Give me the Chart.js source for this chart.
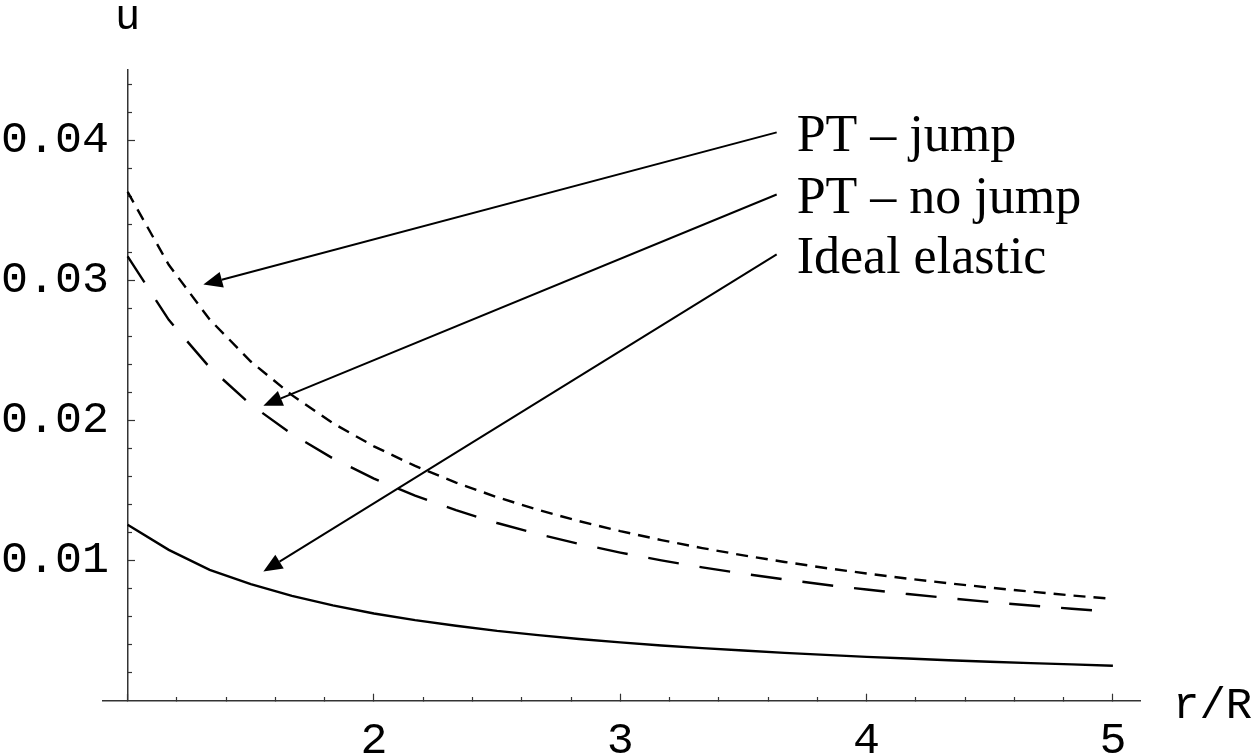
<!DOCTYPE html>
<html>
<head>
<meta charset="utf-8">
<title>u vs r/R</title>
<script src="https://cdn.jsdelivr.net/npm/chart.js@4/dist/chart.umd.min.js"></script>
<style>
  html, body { margin: 0; padding: 0; background: #ffffff; }
  #wrap { width: 1251px; height: 753px; position: relative; }
</style>
</head>
<body>
<div id="wrap"><canvas id="uChart"></canvas></div>
<script>
// sample positions r/R
const xs = [1, 1.167, 1.333, 1.5, 1.667, 1.833, 2, 2.167, 2.333, 2.5, 2.667, 2.833,
  3, 3.167, 3.333, 3.5, 3.667, 3.833, 4, 4.167, 4.333, 4.5, 4.667, 4.833, 5];

// PT - jump (short dashes)
const ptJump = [0.0363, 0.0311, 0.0272, 0.0242, 0.0218, 0.0198, 0.01815, 0.01675,
  0.01556, 0.01452, 0.01361, 0.01281, 0.0121, 0.01146, 0.01089, 0.01037, 0.0099,
  0.00947, 0.00908, 0.00871, 0.00838, 0.00807, 0.00778, 0.00751, 0.00726];

// PT - no jump (long dashes)
const ptNoJump = [0.0317, 0.02717, 0.02378, 0.02113, 0.01902, 0.01729, 0.01585,
  0.01463, 0.01359, 0.01268, 0.01189, 0.01119, 0.01057, 0.01001, 0.00951, 0.00906,
  0.00865, 0.00827, 0.00793, 0.00761, 0.00732, 0.00704, 0.00679, 0.00656, 0.00634];

// Ideal elastic (solid)
const idealElastic = [0.01255, 0.01076, 0.00934, 0.00832, 0.00748, 0.0068, 0.00622,
  0.00575, 0.00535, 0.00498, 0.00468, 0.0044, 0.00416, 0.00394, 0.00375, 0.00358,
  0.00341, 0.00327, 0.00313, 0.00301, 0.00289, 0.00278, 0.00268, 0.00259, 0.00249];

const xTickLabels = [2, 3, 4, 5];
const yTickLabels = [0.01, 0.02, 0.03, 0.04];

// annotation labels and arrows (data units: tail -> head)
const labelTexts = ["PT \u2013 jump", "PT \u2013 no jump", "Ideal elastic"];
const arrowTails = [[3.635, 0.04055], [3.635, 0.03612], [3.635, 0.03184]];
const arrowHeads = [[1.3075, 0.02969], [1.551, 0.02105], [1.551, 0.00921]];

const AXIS_COLOR = "#333333";
const HIDDEN = "rgba(0,0,0,0)";
const MONO = "'Liberation Mono', 'DejaVu Sans Mono', monospace";
const SERIF = "'Liberation Serif', 'DejaVu Serif', serif";

function toPoints(values) {
  return values.map(function (v, i) { return { x: xs[i], y: v }; });
}

function near(v, list, eps) {
  return list.some(function (t) { return Math.abs(v - t) < eps; });
}

function onStep(v, step) {
  const k = v / step;
  return Math.abs(k - Math.round(k)) < 1e-6;
}

document.addEventListener("DOMContentLoaded", function () {
  // arrows, annotation text and axis titles
  const annotations = {
    id: "annotations",
    afterDatasetsDraw: function (chart) {
      const ctx = chart.ctx;
      const sx = chart.scales.x;
      const sy = chart.scales.y;
      const area = chart.chartArea;
      ctx.save();
      ctx.strokeStyle = "#000";
      ctx.fillStyle = "#000";
      ctx.lineWidth = 2;
      arrowTails.forEach(function (tail, i) {
        const x1 = sx.getPixelForValue(tail[0]);
        const y1 = sy.getPixelForValue(tail[1]);
        const x2 = sx.getPixelForValue(arrowHeads[i][0]);
        const y2 = sy.getPixelForValue(arrowHeads[i][1]);
        const ang = Math.atan2(y2 - y1, x2 - x1);
        const len = 19, half = 8;
        const bx = x2 - len * Math.cos(ang);
        const by = y2 - len * Math.sin(ang);
        ctx.beginPath();
        ctx.moveTo(x1, y1);
        ctx.lineTo(bx, by);
        ctx.stroke();
        ctx.beginPath();
        ctx.moveTo(x2, y2);
        ctx.lineTo(bx + half * Math.sin(ang), by - half * Math.cos(ang));
        ctx.lineTo(bx - half * Math.sin(ang), by + half * Math.cos(ang));
        ctx.closePath();
        ctx.fill();
        // label text
        ctx.font = "52px " + SERIF;
        ctx.textAlign = "left";
        ctx.textBaseline = "alphabetic";
        ctx.fillText(labelTexts[i], x1 + 20, y1 + 19);
      });
      // axis titles
      ctx.font = "42px " + MONO;
      ctx.textAlign = "center";
      ctx.fillText("u", sx.getPixelForValue(1), area.top - 41);
      ctx.font = "44px " + MONO;
      ctx.textAlign = "left";
      ctx.fillText("r/R", area.right + 33, area.bottom + 17);
      ctx.restore();
    },
  };

  const ctx = document.getElementById("uChart").getContext("2d");
  const uChart = new Chart(ctx, {
    type: "line",
    data: {
      datasets: [
        {
          label: "PT - jump",
          data: toPoints(ptJump),
          borderColor: "#000",
          borderWidth: 2.4,
          borderDash: [12, 8],
          pointRadius: 0,
          tension: 0,
        },
        {
          label: "PT - no jump",
          data: toPoints(ptNoJump),
          borderColor: "#000",
          borderWidth: 2.4,
          borderDash: [31, 21],
          pointRadius: 0,
          tension: 0,
        },
        {
          label: "Ideal elastic",
          data: toPoints(idealElastic),
          borderColor: "#000",
          borderWidth: 2.4,
          pointRadius: 0,
          tension: 0,
        },
      ],
    },
    options: {
      responsive: true,
      maintainAspectRatio: false,
      animation: false,
      events: [],
      layout: {
        padding: { left: 0, right: 111, top: 70, bottom: 0 },
      },
      plugins: {
        legend: { display: false },
        tooltip: { enabled: false },
      },
      scales: {
        x: {
          type: "linear",
          position: "bottom",
          min: 0.9,
          max: 5.11,
          afterFit: function (s) { s.height = 52.3; },
          border: { display: true, color: AXIS_COLOR, width: 1.5 },
          grid: {
            drawOnChartArea: false,
            tickLength: -7,
            tickWidth: 1.2,
            tickColor: function (c) {
              const v = c.tick.value;
              return v > 0.95 && v < 5.05 && onStep(v, 0.2) ? AXIS_COLOR : HIDDEN;
            },
            tickBorderDash: function (c) {
              return near(c.tick.value, [1, 2, 3, 4, 5], 1e-6) ? [] : [4.5, 40];
            },
          },
          ticks: {
            stepSize: 0.2,
            includeBounds: false,
            autoSkip: false,
            maxRotation: 0,
            padding: 20,
            color: "#000",
            font: { family: MONO, size: 45 },
            callback: function (v) {
              return near(v, xTickLabels, 1e-6) ? String(Math.round(v)) : "";
            },
          },
        },
        y: {
          type: "linear",
          position: { x: 1 },
          min: 0,
          max: 0.045,
          afterFit: function (s) { s.width = 0; },
          border: { display: true, color: AXIS_COLOR, width: 1.5 },
          grid: {
            drawOnChartArea: false,
            tickLength: -8,
            tickWidth: 1.2,
            tickColor: function (c) {
              const v = c.tick.value;
              return v > 0.001 && v < 0.0449 && onStep(v, 0.002) ? AXIS_COLOR : HIDDEN;
            },
            tickBorderDash: function (c) {
              return onStep(c.tick.value, 0.01) ? [] : [5, 40];
            },
          },
          ticks: { display: false, stepSize: 0.002, includeBounds: false, autoSkip: false },
        },
        // labels for the u axis, left of the axis line (mirrored so they are not clipped)
        yl: {
          type: "linear",
          position: "left",
          min: 0,
          max: 0.045,
          afterFit: function (s) { s.width = 103; },
          border: { display: false },
          grid: { display: false, drawTicks: false },
          ticks: {
            stepSize: 0.002,
            autoSkip: false,
            mirror: true,
            padding: -102,
            color: "#000",
            font: { family: MONO, size: 45 },
            callback: function (v) {
              return near(v, yTickLabels, 1e-7) ? v.toFixed(2) : "";
            },
          },
        },
      },
    },
    plugins: [annotations],
  });
});
</script>
</body>
</html>
